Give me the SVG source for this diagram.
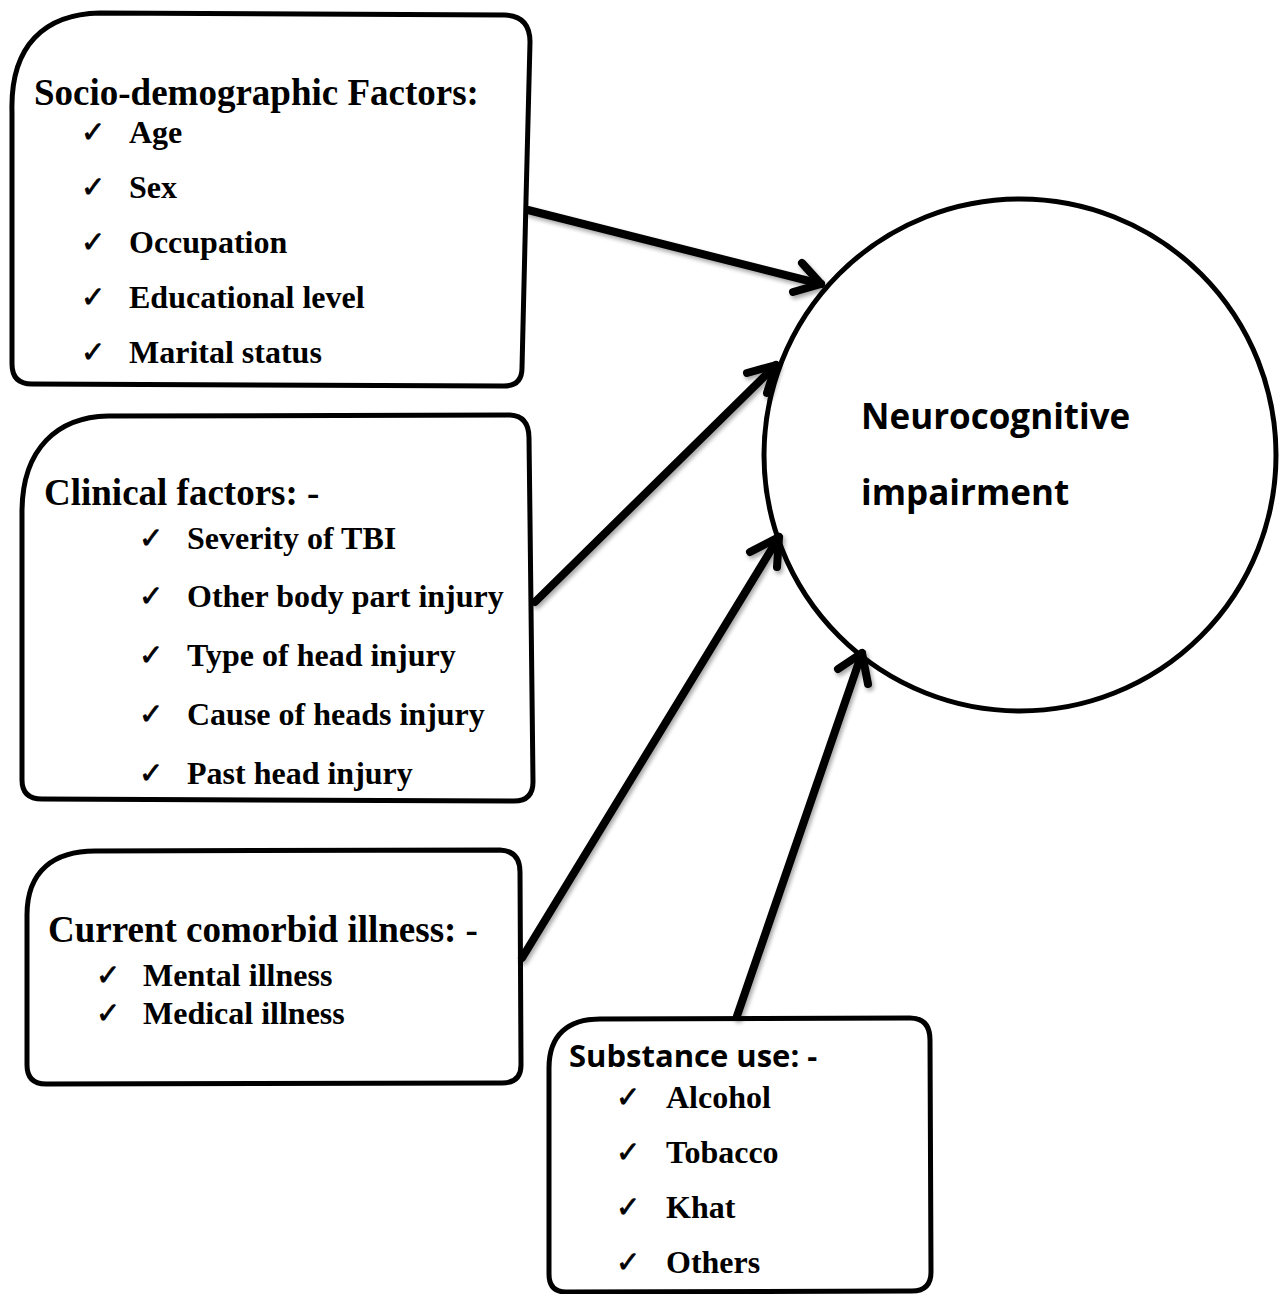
<svg xmlns="http://www.w3.org/2000/svg" width="1280" height="1294" viewBox="0 0 1280 1294">
<style>
.box{fill:#fff;stroke:#000;stroke-width:5;stroke-linejoin:round}
.title{font-family:"Liberation Serif",serif;font-weight:bold;font-size:37px;fill:#000}
.item{font-family:"Liberation Serif",serif;font-weight:bold;font-size:32px;fill:#000}
.chk{font-family:"DejaVu Sans",sans-serif;font-size:29px;fill:#000;stroke:#000;stroke-width:0.8}
.sans{font-family:"Open Sans","Liberation Sans",sans-serif;font-weight:bold;fill:#000}
.conn{fill:none;stroke:#000;stroke-width:8;stroke-linecap:round;stroke-linejoin:round}
</style>
<defs>
<filter id="sh" x="-10%" y="-10%" width="120%" height="120%">
<feGaussianBlur in="SourceAlpha" stdDeviation="2"/>
<feOffset dx="2" dy="3" result="b"/>
<feComponentTransfer><feFuncA type="linear" slope="0.35"/></feComponentTransfer>
<feMerge><feMergeNode/><feMergeNode in="SourceGraphic"/></feMerge>
</filter>
</defs>
<rect width="1280" height="1294" fill="#fff"/>

<g id="socio">
<path class="box" d="M12,112 C10,45 45,14 100,13 L505,15 Q530,16 530,42 L526,200 L522,368 Q522,386 504,386 L32,384 Q12,384 12,364 Z"/>
<text class="title" x="34" y="105">Socio-demographic Factors:</text>
<text class="chk" x="81" y="142">✓</text><text class="item" x="129" y="143">Age</text>
<text class="chk" x="81" y="197">✓</text><text class="item" x="129" y="198">Sex</text>
<text class="chk" x="81" y="252">✓</text><text class="item" x="129" y="253">Occupation</text>
<text class="chk" x="81" y="307">✓</text><text class="item" x="129" y="308">Educational level</text>
<text class="chk" x="81" y="362">✓</text><text class="item" x="129" y="363">Marital status</text>
</g>

<g id="clinical">
<path class="box" d="M22,512 C22,448 58,417 108,416 L510,415 Q529,416 529,438 L530,520 L533,782 Q533,801 514,801 L42,799 Q22,799 22,780 Z"/>
<text class="title" x="44" y="505">Clinical factors: -</text>
<text class="chk" x="139" y="548">✓</text><text class="item" x="187" y="549">Severity of TBI</text>
<text class="chk" x="139" y="606">✓</text><text class="item" x="187" y="607">Other body part injury</text>
<text class="chk" x="139" y="665">✓</text><text class="item" x="187" y="666">Type of head injury</text>
<text class="chk" x="139" y="724">✓</text><text class="item" x="187" y="725">Cause of heads injury</text>
<text class="chk" x="139" y="783">✓</text><text class="item" x="187" y="784">Past head injury</text>
</g>

<g id="comorbid">
<path class="box" d="M27,915 C27,870 55,851 95,851 L500,850 Q520,851 520,872 L521,1065 Q521,1083 502,1083 L46,1084 Q27,1084 27,1065 Z"/>
<text class="title" x="48" y="942">Current comorbid illness: -</text>
<text class="chk" x="96" y="985">✓</text><text class="item" x="143" y="986">Mental illness</text>
<text class="chk" x="96" y="1023">✓</text><text class="item" x="143" y="1024">Medical illness</text>
</g>

<g id="substance">
<path class="box" d="M549,1068 C549,1035 568,1019 600,1019 L910,1018 Q930,1018 930,1040 L931,1272 Q931,1291 912,1291 L566,1292 Q549,1292 549,1274 Z"/>
<text class="sans" x="569" y="1067" font-size="31">Substance use: -</text>
<text class="chk" x="616" y="1107">✓</text><text class="item" x="666" y="1108">Alcohol</text>
<text class="chk" x="616" y="1162">✓</text><text class="item" x="666" y="1163">Tobacco</text>
<text class="chk" x="616" y="1217">✓</text><text class="item" x="666" y="1218">Khat</text>
<text class="chk" x="616" y="1272">✓</text><text class="item" x="666" y="1273">Others</text>
</g>

<g id="neuro">
<circle cx="1020" cy="455" r="256" fill="#fff" stroke="#000" stroke-width="5"/>
<text class="sans" x="861" y="429" font-size="35">Neurocognitive</text>
<text class="sans" x="861" y="505" font-size="35">impairment</text>
</g>

<g id="connectors" filter="url(#sh)">
<path class="conn" d="M528,210 L821,284"/>
<path class="conn" d="M802,263 L821,284 L793,292"/>
<path class="conn" d="M535,602 L776,365"/>
<path class="conn" d="M747,373 L776,365 L767,393"/>
<path class="conn" d="M522,958 L779,537"/>
<path class="conn" d="M750,552 L779,537 L777,567"/>
<path class="conn" d="M737,1016 L862,653"/>
<path class="conn" d="M838,669 L862,653 L868,684"/>
</g>
</svg>
